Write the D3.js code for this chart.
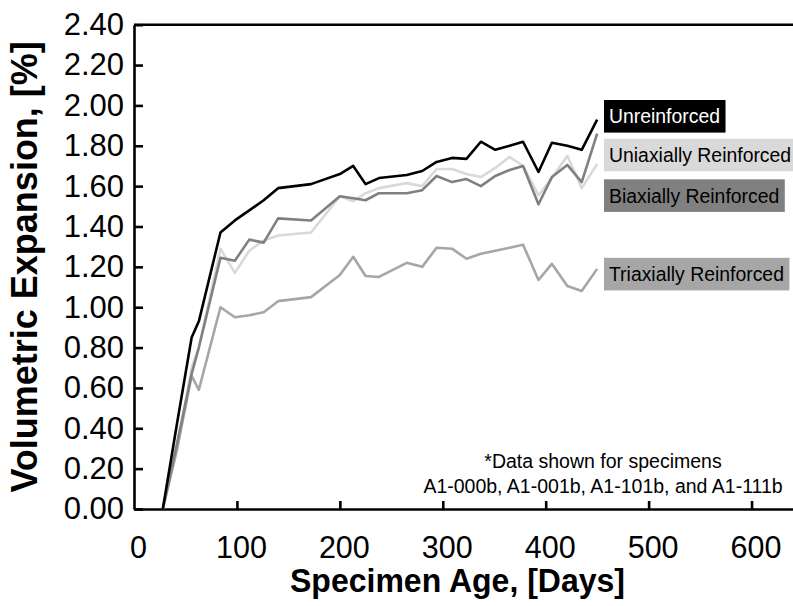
<!DOCTYPE html>
<html>
<head>
<meta charset="utf-8">
<script src="https://cdn.jsdelivr.net/npm/d3@7"></script>
<style>
  html, body { margin: 0; padding: 0; background: #ffffff; }
  svg { display: block; font-family: "Liberation Sans", Arial, sans-serif; }
</style>
</head>
<body>
<svg id="chart" width="793" height="606"></svg>
<script>
// Specimen age in days at each measurement
const days = [28, 42, 56, 63, 84, 98, 112, 126, 140, 172, 200, 213, 225, 238, 265, 280, 294, 309, 323, 337, 351, 365, 378, 393, 406, 421, 435, 450];

// Volumetric expansion [%] for each specimen type
const unreinforced = [0, 0.43, 0.85, 0.93, 1.37, 1.43, 1.48, 1.53, 1.59, 1.61, 1.66, 1.70, 1.61, 1.64, 1.655, 1.675, 1.72, 1.74, 1.735, 1.82, 1.78, 1.80, 1.82, 1.67, 1.815, 1.80, 1.78, 1.93];
const uniaxial     = [0, 0.30, 0.70, 0.80, 1.29, 1.17, 1.28, 1.33, 1.355, 1.37, 1.55, 1.525, 1.565, 1.59, 1.615, 1.60, 1.685, 1.685, 1.66, 1.645, 1.69, 1.745, 1.70, 1.555, 1.64, 1.75, 1.59, 1.71];
const biaxial      = [0, 0.33, 0.67, 0.80, 1.245, 1.23, 1.335, 1.32, 1.44, 1.43, 1.55, 1.54, 1.53, 1.565, 1.565, 1.58, 1.65, 1.62, 1.635, 1.60, 1.65, 1.68, 1.70, 1.51, 1.645, 1.705, 1.62, 1.86];
const triaxial     = [0, 0.30, 0.66, 0.59, 1.00, 0.95, 0.96, 0.975, 1.03, 1.05, 1.16, 1.25, 1.155, 1.15, 1.22, 1.20, 1.295, 1.29, 1.24, 1.265, 1.28, 1.295, 1.31, 1.135, 1.215, 1.105, 1.08, 1.19];

const seriesNames  = ["Unreinforced", "Uniaxially Reinforced", "Biaxially Reinforced", "Triaxially Reinforced"];
const seriesValues = [unreinforced, uniaxial, biaxial, triaxial];
const seriesColors = ["#000000", "#d9d9d9", "#808080", "#a6a6a6"];
const labelTextColors = ["#ffffff", "#000000", "#000000", "#000000"];
// vertical anchor of each series label, in % expansion
const labelLevels  = [1.946, 1.754, 1.553, 1.164];

const xTicks = [0, 100, 200, 300, 400, 500, 600];
const yTicks = [0, 0.2, 0.4, 0.6, 0.8, 1.0, 1.2, 1.4, 1.6, 1.8, 2.0, 2.2, 2.4];

const noteLines = ["*Data shown for specimens", "A1-000b, A1-001b, A1-101b, and A1-111b"];

const svg = d3.select("#chart");
const x = d3.scaleLinear().domain([0, 650]).range([134, 803]);
const y = d3.scaleLinear().domain([0, 2.4]).range([509, 24.7]);

// Frame top edge
svg.append("line")
  .attr("x1", x(0)).attr("x2", x(650))
  .attr("y1", y(2.4)).attr("y2", y(2.4))
  .attr("stroke", "#000").attr("stroke-width", 2.6);

// Left axis with inward ticks
const yAxis = svg.append("g")
  .attr("transform", `translate(${x(0)},0)`)
  .call(d3.axisLeft(y).tickValues(yTicks).tickFormat(d3.format(".2f"))
    .tickSizeInner(-9).tickSizeOuter(0).tickPadding(10));
yAxis.select(".domain").attr("stroke", "#000").attr("stroke-width", 2.6);
yAxis.selectAll(".tick line").attr("stroke", "#000").attr("stroke-width", 2.6);
yAxis.selectAll(".tick text").attr("font-size", 31).attr("fill", "#000")
  .attr("font-family", "'Liberation Sans', Arial, sans-serif");

// Bottom axis with inward ticks
const xAxis = svg.append("g")
  .attr("transform", `translate(0,${y(0)})`)
  .call(d3.axisBottom(x).tickValues(xTicks).tickFormat(d3.format("d"))
    .tickSizeInner(-8).tickSizeOuter(0).tickPadding(27));
xAxis.select(".domain").attr("stroke", "#000").attr("stroke-width", 2.6);
xAxis.selectAll(".tick line").attr("stroke", "#000").attr("stroke-width", 2.6)
  .filter(d => d === 0).remove();
xAxis.selectAll(".tick text").attr("font-size", 30.5).attr("fill", "#000")
  .attr("dx", 4)
  .attr("font-family", "'Liberation Sans', Arial, sans-serif");

// Series lines
const line = d3.line().x((d, i) => x(days[i])).y(d => y(d));
const drawOrder = [1, 3, 2, 0];
svg.append("g").selectAll("path")
  .data(drawOrder)
  .join("path")
  .attr("d", k => line(seriesValues[k]))
  .attr("fill", "none")
  .attr("stroke", k => seriesColors[k])
  .attr("stroke-width", 2.6)
  .attr("stroke-linejoin", "round");

// Series labels on filled boxes
const labels = svg.append("g");
seriesNames.forEach((name, k) => {
  const cy = y(labelLevels[k]);
  const g = labels.append("g");
  const rect = g.append("rect").attr("fill", seriesColors[k]);
  const t = g.append("text")
    .attr("x", 609).attr("y", cy).attr("dy", "0.36em")
    .attr("font-size", 19.4).attr("fill", labelTextColors[k])
    .text(name);
  const w = t.node().getComputedTextLength();
  rect.attr("x", 604).attr("y", cy - 16.3).attr("width", w + 10.5).attr("height", 32.6);
});

// Specimen note
svg.append("g").selectAll("text")
  .data(noteLines)
  .join("text")
  .attr("x", 603).attr("y", (d, i) => 468.3 + i * 25)
  .attr("text-anchor", "middle")
  .attr("font-size", 19.5).attr("fill", "#000")
  .text(d => d);

// Axis titles
svg.append("text")
  .attr("x", 457.5).attr("y", 592)
  .attr("text-anchor", "middle")
  .attr("font-size", 34).attr("font-weight", "bold")
  .attr("textLength", 335).attr("lengthAdjust", "spacingAndGlyphs")
  .text("Specimen Age, [Days]");

svg.append("text")
  .attr("transform", `translate(37,${(y(0) + y(2.4)) / 2}) rotate(-90)`)
  .attr("text-anchor", "middle")
  .attr("font-size", 36).attr("font-weight", "bold")
  .text("Volumetric Expansion, [%]");
</script>
</body>
</html>
